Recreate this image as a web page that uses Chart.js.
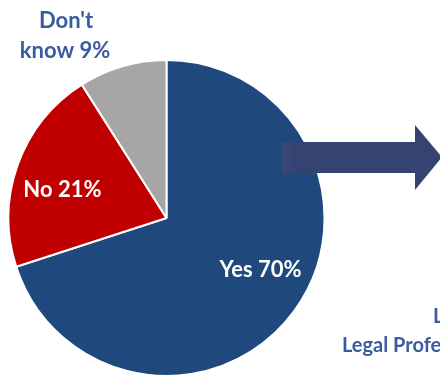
<!DOCTYPE html>
<html lang="en">
<head>
    <meta charset="UTF-8">
    <title>Survey pie</title>
    <script src="https://cdn.jsdelivr.net/npm/chart.js"></script>
    <style>
        html, body { margin: 0; padding: 0; background: #fff; overflow: hidden; }
        canvas { display: block; }
    </style>
</head>
<body>
    <canvas id="pieChart" width="440" height="377"></canvas>

    <script>
        // values
        const categories = ['Yes', 'No', "Don't know"];
        const shares = [70, 21, 9];
        const sliceColors = ['#1f497d', '#c00000', '#a6a6a6'];

        const textBlue = '#3b5ba0';
        const font = 'bold 22px Lato, "Open Sans", sans-serif';

        // labels inside the slices + the outside one
        const sliceLabels = {
            id: 'sliceLabels',
            afterDatasetsDraw(chart) {
                const ctx = chart.ctx;
                const arcs = chart.getDatasetMeta(0).data;
                const nudge = [[7, -11], [-3, 8]];
                ctx.save();
                ctx.font = font;
                ctx.textAlign = 'center';
                ctx.textBaseline = 'middle';
                ctx.fillStyle = '#ffffff';
                for (let i = 0; i < 2; i++) {
                    const a = arcs[i].getProps(['x', 'y', 'startAngle', 'endAngle', 'outerRadius']);
                    const mid = (a.startAngle + a.endAngle) / 2;
                    const r = a.outerRadius * 0.68;
                    ctx.fillText(categories[i] + ' ' + shares[i] + '%',
                        a.x + Math.cos(mid) * r + nudge[i][0],
                        a.y + Math.sin(mid) * r + nudge[i][1]);
                }
                // "Don't know" sits above the pie
                ctx.fillStyle = textBlue;
                ctx.textBaseline = 'alphabetic';
                ctx.fillText("Don't", 66, 28);
                ctx.fillText('know ' + shares[2] + '%', 65, 58);
                ctx.restore();
            }
        };

        // the arrow and the cut off caption on the right
        const decorations = {
            id: 'decorations',
            afterDraw(chart) {
                const ctx = chart.ctx;
                ctx.save();
                const g = ctx.createLinearGradient(282, 0, 296, 0);
                g.addColorStop(0, '#3a4a7a');
                g.addColorStop(1, '#344370');
                ctx.fillStyle = g;
                ctx.beginPath();
                ctx.moveTo(282, 142);
                ctx.lineTo(415, 142);
                ctx.lineTo(415, 125);
                ctx.lineTo(442, 157);
                ctx.lineTo(415, 190);
                ctx.lineTo(415, 173);
                ctx.lineTo(282, 173);
                ctx.closePath();
                ctx.fill();

                ctx.fillStyle = textBlue;
                ctx.font = 'bold 20px Lato, "Open Sans", sans-serif';
                ctx.textAlign = 'left';
                ctx.fillText('L', 433, 323);
                ctx.fillText('Legal Profession', 342, 352);
                ctx.restore();
            }
        };

        new Chart(document.getElementById('pieChart').getContext('2d'), {
            type: 'pie',
            data: {
                labels: categories,
                datasets: [{
                    data: shares,
                    backgroundColor: sliceColors,
                    borderColor: '#ffffff',
                    borderWidth: 2
                }]
            },
            options: {
                responsive: false,
                animation: false,
                layout: { padding: { left: 7, right: 114, top: 59, bottom: 0 } },
                plugins: {
                    legend: { display: false },
                    tooltip: { enabled: false }
                }
            },
            plugins: [sliceLabels, decorations]
        });
    </script>
</body>
</html>
